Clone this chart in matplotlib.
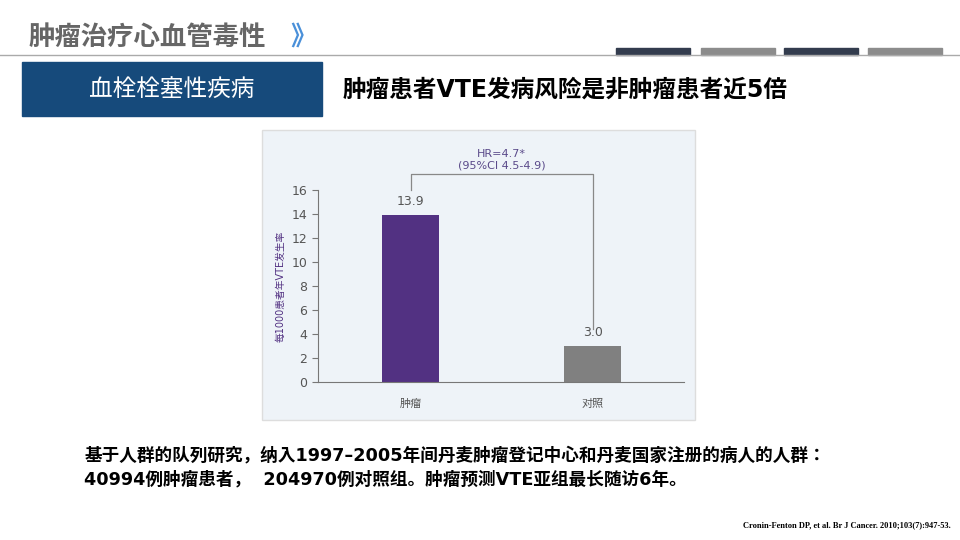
import matplotlib.pyplot as plt
from matplotlib import font_manager
from matplotlib.patches import Rectangle

cjk = sorted({f.name for f in font_manager.fontManager.ttflist if 'CJK' in f.name and 'Sans' in f.name})
cjk_name = 'Noto Sans CJK SC' if 'Noto Sans CJK SC' in cjk else (cjk[0] if cjk else 'DejaVu Sans')
plt.rcParams['font.family'] = ['DejaVu Sans', cjk_name]

categories = ['肿瘤', '对照']
rates = [13.9, 3.0]
bar_colors = ['#523182', '#808080']
yticks = [0, 2, 4, 6, 8, 10, 12, 14, 16]

fig = plt.figure(figsize=(9.6, 5.4), dpi=100)
fig.patch.set_facecolor('white')

# header
fig.text(0.03, 0.93, '肿瘤治疗心血管毒性', fontsize=19, fontweight='bold', color='#666666', va='center')
fig.text(0.302, 0.93, '》', fontsize=19, fontweight='bold', color='#4a90d9', va='center')
fig.add_artist(plt.Line2D([0, 1], [0.898, 0.898], color='#aaaaaa', lw=1))
for x0, c in zip([0.642, 0.73, 0.817, 0.904], ['#333c4e', '#8c8c8c', '#333c4e', '#8c8c8c']):
    fig.add_artist(Rectangle((x0, 0.899), 0.077, 0.013, color=c))
fig.add_artist(Rectangle((0.023, 0.785), 0.312, 0.1, color='#164a7b'))
fig.text(0.179, 0.835, '血栓栓塞性疾病', fontsize=17, color='white', ha='center', va='center')
fig.text(0.357, 0.835, '肿瘤患者VTE发病风险是非肿瘤患者近5倍', fontsize=17, fontweight='bold', va='center')

# chart panel background
fig.add_artist(Rectangle((0.273, 0.222), 0.451, 0.537, facecolor='#eef3f8', edgecolor='#dddddd',
                         lw=1, zorder=-5))

ax = fig.add_axes([0.331, 0.2926, 0.382, 0.3556])
ax.set_zorder(2)
ax.set_facecolor('none')
x = range(len(categories))
ax.bar(x, rates, width=0.313, color=bar_colors)
for xi, v in zip(x, rates):
    ax.text(xi, v + 0.6, f'{v:.1f}', ha='center', va='bottom', fontsize=9, color='#555555')
ax.set_xlim(-0.511, 1.505)
ax.set_ylim(0, 16)
ax.set_yticks(yticks)
ax.set_xticks(list(x))
ax.set_xticklabels(categories, fontsize=8, color='#555555')
ax.tick_params(axis='y', labelsize=9, labelcolor='#555555', color='#777777', length=4)
ax.tick_params(axis='x', length=0, pad=12)
for s in ['top', 'right']:
    ax.spines[s].set_visible(False)
for s in ['left', 'bottom']:
    ax.spines[s].set_color('#777777')
ax.set_ylabel('每1000患者年VTE发生率', fontsize=7, color='#523182')

# HR bracket
ax.plot([0, 0, 1, 1], [16.0, 17.3, 17.3, 4.4], color='#888888', lw=0.9, clip_on=False)
ax.text(0.5, 17.6, 'HR=4.7*\n(95%CI 4.5-4.9)', ha='center', va='bottom', fontsize=8,
        color='#5a4a8a', linespacing=1.2)

fig.text(0.088, 0.157, '基于人群的队列研究，纳入1997–2005年间丹麦肿瘤登记中心和丹麦国家注册的病人的人群：',
         fontsize=12.7, fontweight='bold', va='center')
fig.text(0.088, 0.113, '40994例肿瘤患者，  204970例对照组。肿瘤预测VTE亚组最长随访6年。',
         fontsize=12.7, fontweight='bold', va='center')
fig.text(0.99, 0.027, 'Cronin-Fenton DP, et al. Br J Cancer. 2010;103(7):947-53.', fontsize=6,
         fontweight='bold', ha='right', va='center', family='Liberation Serif')

fig.savefig('out.png', dpi=100)
